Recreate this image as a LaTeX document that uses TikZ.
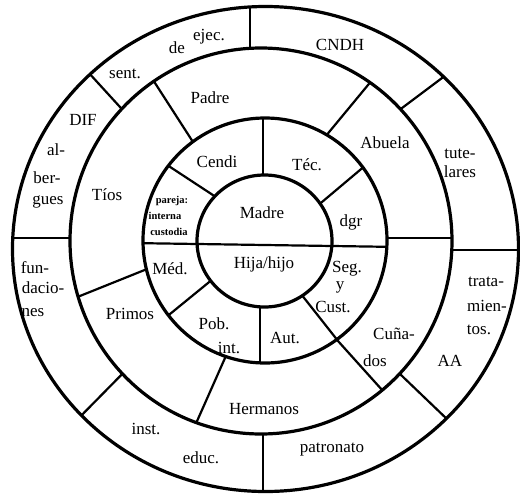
\documentclass[tikz,border=0pt]{standalone}
\usepackage{fontspec}
\setmainfont{Liberation Serif}
\begin{document}
\begin{tikzpicture}[x=1pt,y=-1pt,
  ring/.style={line width=3.2pt},
  divider/.style={line width=2.2pt},
  lbl/.style={anchor=base,inner sep=0pt,font=\fontsize{17}{20}\selectfont},
  tiny/.style={anchor=base,inner sep=0pt,font=\fontsize{10.5}{12}\selectfont\bfseries}]
\useasboundingbox (0,0) rectangle (520,496);
\def\Ezero{(264.5,241) ellipse [x radius=67.5pt, y radius=66pt]}
\def\Eone{(265,240.5) ellipse [x radius=122pt, y radius=122.5pt]}
\def\Etwo{(261,241) ellipse [x radius=191pt, y radius=193pt]}
\def\Ethree{(265.5,249) ellipse [x radius=253pt, y radius=242.5pt]}
% outer ring dividers
\begin{scope}
  \clip \Ethree;
  \draw[divider] (250,0) -- (250,60);
  \draw[divider] (263,420) -- (263,500);
  \draw[divider] (78.4,61.5) -- (129.6,117.5);
  \draw[divider] (454,69) -- (390,117);
  \draw[divider] (440,250) -- (525,250);
  \draw[divider] (388.5,363) -- (460.5,432);
  \draw[divider] (71,426) -- (134,362);
  \draw[divider] (0,238) -- (80,238);
\end{scope}
\fill[white] \Etwo;
% ring 3 dividers
\begin{scope}
  \clip \Etwo;
  \draw[divider] (143.6,65.3) -- (204.4,159.7);
  \draw[divider] (380.9,69.4) -- (312.1,152.6);
  \draw[divider] (375,238) -- (460,238);
  \draw[divider] (324.5,326) -- (396.5,406);
  \draw[divider] (233,340) -- (190,437);
  \draw[divider] (60,304) -- (167,261);
\end{scope}
\fill[white] \Eone;
% ring 2 dividers
\begin{scope}
  \clip \Eone;
  \draw[divider] (263,110) -- (263,185);
  \draw[divider] (310.6,211.6) -- (371.4,160.4);
  \draw[divider] (158,159) -- (222,201);
  \draw[divider] (158.6,323.3) -- (219.4,273.7);
  \draw[divider] (260,295) -- (260,370);
  \draw[divider] (295,286.4) -- (348,353.6);
\end{scope}
\fill[white] \Ezero;
\begin{scope}
  \clip \Eone;
  \draw[divider] (130,243) -- (400,247);
\end{scope}
% circles
\draw[ring] \Ezero;
\draw[ring] \Eone;
\draw[ring] \Etwo;
\draw[ring] \Ethree;
% centre
\node[lbl] (madre) at (262,218) {Madre};
\node[lbl] (hija) at (264,268) {Hija/hijo};
% ring 2
\node[lbl] (cendi) at (217,167) {Cendi};
\node[lbl] (tec) at (307,170) {Téc.};
\node[lbl] (dgr) at (351,226) {dgr};
\node[tiny] (pareja) at (172,203) {pareja:};
\node[tiny] (interna) at (165,219) {interna};
\node[tiny] (custodia) at (169,235) {custodia};
\node[lbl] (med) at (170,274) {Méd.};
\node[lbl] (pob) at (214,329) {Pob.};
\node[lbl] (int) at (229,353) {int.};
\node[lbl] (aut) at (285,343) {Aut.};
\node[lbl] (seg) at (347,272) {Seg.};
\node[lbl] (y) at (340,289) {y};
\node[lbl] (cust) at (333,312) {Cust.};
% ring 3
\node[lbl] (padre) at (210,103) {Padre};
\node[lbl] (abuela) at (385,148) {Abuela};
\node[lbl] (tios) at (107,200) {Tíos};
\node[lbl] (primos) at (130,319) {Primos};
\node[lbl] (hermanos) at (264,414) {Hermanos};
\node[lbl] (cuna) at (394,339) {Cuña-};
\node[lbl] (dos) at (375,366) {dos};
% outer ring
\node[lbl] (ejec) at (209,40) {ejec.};
\node[lbl] (de) at (177,53) {de};
\node[lbl] (sent) at (125,78) {sent.};
\node[lbl] (cndh) at (340,50) {CNDH};
\node[lbl] (tute) at (460,158) {tute-};
\node[lbl] (lares) at (460,177) {lares};
\node[lbl] (trata) at (486,286) {trata-};
\node[lbl] (mien) at (487,311) {mien-};
\node[lbl] (tos) at (479,334) {tos.};
\node[lbl] (aa) at (450,366) {AA};
\node[lbl] (patronato) at (332,452) {patronato};
\node[lbl] (educ) at (201,463) {educ.};
\node[lbl] (inst) at (146,434) {inst.};
\node[lbl] (fun) at (35,273) {fun-};
\node[lbl] (dacio) at (43,293) {dacio-};
\node[lbl] (nes) at (33,316) {nes};
\node[lbl] (dif) at (83,125) {DIF};
\node[lbl] (al) at (56,155) {al-};
\node[lbl] (ber) at (47,183) {ber-};
\node[lbl] (gues) at (48,204) {gues};
\end{tikzpicture}
\end{document}
